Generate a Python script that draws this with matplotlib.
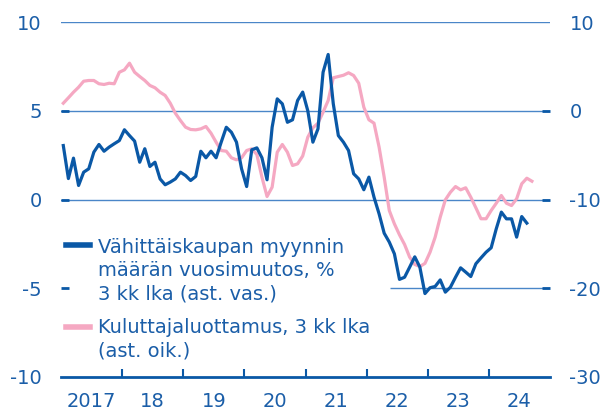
import matplotlib
matplotlib.use("Agg")
import matplotlib.pyplot as plt
from matplotlib.lines import Line2D
import numpy as np

# Data: monthly, starting January 2017
start_year = 2017
retail_sales = [3.04, 1.18, 2.33, 0.79, 1.54, 1.73, 2.67, 3.10, 2.72, 2.95, 3.14, 3.32,
                3.93, 3.60, 3.29, 2.10, 2.86, 1.86, 2.10, 1.16, 0.83, 0.98, 1.16, 1.54,
                1.35, 1.07, 1.30, 2.72, 2.35, 2.72, 2.35, 3.23, 4.07, 3.79, 3.23, 1.73,
                0.73, 2.80, 2.91, 2.35, 1.11, 4.07, 5.67, 5.39, 4.35, 4.49, 5.58, 6.05,
                5.00, 3.23, 3.98, 7.17, 8.17, 5.40, 3.60, 3.23, 2.76, 1.45, 1.16, 0.55,
                1.26, 0.13, -0.81, -1.90, -2.40, -3.06, -4.50, -4.38, -3.81, -3.23, -3.81, -5.30,
                -4.97, -4.90, -4.53, -5.22, -4.94, -4.38, -3.85, -4.09, -4.34, -3.62, -3.29, -2.97,
                -2.72, -1.65, -0.71, -1.09, -1.09, -2.12, -0.96, -1.33]
consumer_confidence = [0.85, 1.46, 2.09, 2.65, 3.33, 3.41, 3.41, 3.04, 2.96, 3.10, 3.04, 4.34,
                       4.61, 5.36, 4.34, 3.86, 3.41, 2.85, 2.59, 2.09, 1.72, 0.85, -0.28, -1.10,
                       -1.85, -2.11, -2.15, -2.04, -1.77, -2.53, -3.54, -4.48, -4.56, -5.30, -5.53, -5.30,
                       -4.48, -4.29, -4.93, -7.49, -9.66, -8.61, -4.67, -3.80, -4.67, -6.17, -5.98, -5.10,
                       -2.98, -1.92, -1.40, -0.16, 1.15, 3.71, 3.86, 4.00, 4.28, 3.97, 3.10, 0.40,
                       -1.02, -1.40, -4.10, -7.49, -11.24, -12.74, -13.98, -15.07, -16.50, -17.32, -17.55, -17.20,
                       -15.94, -14.25, -11.99, -10.04, -9.18, -8.54, -8.91, -8.68, -9.74, -10.94, -12.17, -12.17,
                       -11.24, -10.42, -9.55, -10.42, -10.68, -9.92, -8.23, -7.60, -7.94]
year_labels = ["2017", "18", "19", "20", "21", "22", "23", "24"]
left_ticks = [-10, -5, 0, 5, 10]
right_ticks = [-30, -20, -10, 0, 10]
legend_blue = ["Vähittäiskaupan myynnin", "määrän vuosimuutos, %", "3 kk lka (ast. vas.)"]
legend_pink = ["Kuluttajaluottamus, 3 kk lka", "(ast. oik.)"]

BLUE = "#0a58a6"
TEXT = "#1b5ea8"
PINK = "#f5a8c2"
GRID = "#4a86c8"
FS = 14

plt.rcParams['font.family'] = ['DejaVu Sans']

W, H = 612, 412
fig = plt.figure(figsize=(W / 100, H / 100), dpi=100)
ax = fig.add_axes([61 / W, 1 - 377 / H, (550 - 61) / W, (377 - 22) / H])
ax2 = ax.twinx()

x_blue = start_year + (np.arange(len(retail_sales)) + 0.45) / 12
x_pink = start_year + (np.arange(len(consumer_confidence)) + 0.45) / 12

ax.set_xlim(2017, 2025)
ax.set_ylim(-10, 10)
ax2.set_ylim(-30, 10)

# gridlines on the back axis
for v in [10, 0, -10]:
    ax2.axhline(v, color=GRID, lw=1.0, zorder=0)
ax2.hlines(-20, 2022.38, 2025, color=GRID, lw=1.0, zorder=0)

ax2.plot(x_pink, consumer_confidence, color=PINK, lw=2.3, solid_joinstyle='round', zorder=2)
ax.plot(x_blue, retail_sales, color=BLUE, lw=2.3, solid_joinstyle='round', zorder=3)

ax.set_zorder(ax2.get_zorder() + 1)
ax.patch.set_visible(False)

for a in (ax, ax2):
    for s in ["top", "left", "right"]:
        a.spines[s].set_visible(False)
ax2.spines["bottom"].set_visible(False)
ax.spines["bottom"].set_color(BLUE)
ax.spines["bottom"].set_linewidth(2.0)

ax.set_yticks(left_ticks)
ax.set_yticklabels([str(t) for t in left_ticks])
ax.tick_params(axis='y', direction='in', length=6, width=2, color=BLUE,
               labelcolor=TEXT, labelsize=FS, pad=14)
ax2.set_yticks(right_ticks)
ax2.set_yticklabels([str(t) for t in right_ticks])
ax2.tick_params(axis='y', direction='in', length=6, width=2, color=BLUE,
                labelcolor=TEXT, labelsize=FS, pad=14)
for a in (ax, ax2):
    ticks = a.yaxis.get_major_ticks()
    for i in (0, len(ticks) - 1):
        ticks[i].tick1line.set_visible(False)
        ticks[i].tick2line.set_visible(False)

years = np.arange(2018, 2025)
ax.set_xticks(years)
ax.set_xticklabels([])
ax.tick_params(axis='x', which='major', direction='in', length=6, width=1.5, color=BLUE)
ax.set_xticks(np.arange(2017, 2025) + 0.5, minor=True)
ax.set_xticklabels(year_labels, minor=True)
ax.tick_params(axis='x', which='minor', length=0, labelcolor=TEXT, labelsize=FS, pad=11)

# manual legend
fig.add_artist(Line2D([66 / W, 90 / W], [1 - 244.5 / H] * 2, color=BLUE, lw=4,
                      transform=fig.transFigure))
for i, line in enumerate(legend_blue):
    fig.text(98 / W, 1 - (253.3 + 23 * i) / H, line, color=TEXT, fontsize=FS, va='baseline')
fig.add_artist(Line2D([66 / W, 90 / W], [1 - 327 / H] * 2, color=PINK, lw=4,
                      transform=fig.transFigure))
for i, line in enumerate(legend_pink):
    fig.text(98 / W, 1 - (333.3 + 23 * i) / H, line, color=TEXT, fontsize=FS, va='baseline')

fig.savefig("out.png", dpi=100)
